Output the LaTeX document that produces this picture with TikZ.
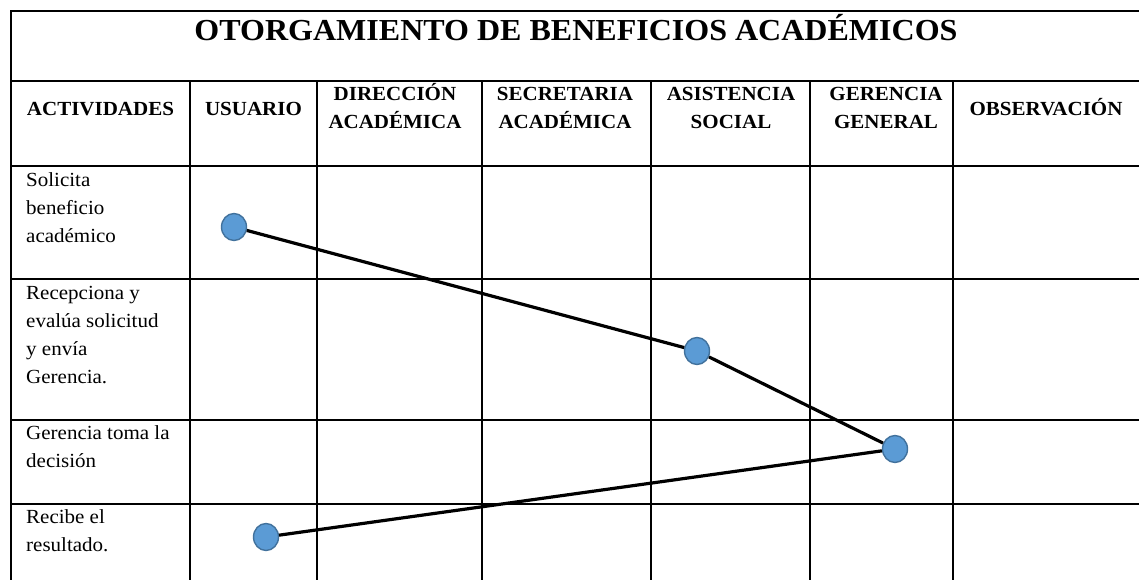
\documentclass[tikz,border=0pt]{standalone}
\usepackage{fontspec}
\setmainfont[FakeStretch=1.05]{Liberation Serif}
\usetikzlibrary{shapes.geometric}
\definecolor{dotfill}{HTML}{5B9BD5}
\definecolor{dotline}{HTML}{41719C}
\newcommand\myst{\rule{0pt}{19pt}}
\begin{document}
\begin{tikzpicture}[x=1pt,y=-1pt,
  grid/.style={line width=2pt},
  titletext/.style={font=\fontsize{30.5}{36}\selectfont\bfseries, inner sep=0pt, anchor=base},
  head/.style={font=\fontsize{20}{28}\selectfont\bfseries, inner sep=0pt, align=center, anchor=north},
  act/.style={font=\fontsize{20}{28}\selectfont, inner sep=0pt, align=left, anchor=north west},
  dot/.style={ellipse, draw=dotline, fill=dotfill, line width=1.4pt, minimum width=25pt, minimum height=27pt, inner sep=0pt},
  flow/.style={line width=3.2pt}]
\useasboundingbox (0,0) rectangle (1139,580);
\begin{scope}
  \clip (0,0) rectangle (1139,580);
  \draw[grid] (11,11) rectangle (1141,600);
  \foreach \yy in {81,166,279,420,504} \draw[grid] (11,\yy) -- (1141,\yy);
  \foreach \xx in {190,317,482,651,810,953} \draw[grid] (\xx,81) -- (\xx,600);
\end{scope}
% title
\node[titletext] (title) at (576,40.5) {OTORGAMIENTO DE BENEFICIOS ACADÉMICOS};
% headers
\node[head] (hact) at (100.5,96) {\myst ACTIVIDADES};
\node[head] (husu) at (253.5,96) {\myst USUARIO};
\node[head] (hdir) at (395,81) {\myst DIRECCIÓN\\ACADÉMICA};
\node[head] (hsec) at (565,81) {\myst SECRETARIA\\ACADÉMICA};
\node[head] (hasi) at (731,81) {\myst ASISTENCIA\\SOCIAL};
\node[head] (hger) at (886,81) {\myst GERENCIA\\GENERAL};
\node[head] (hobs) at (1046,96) {\myst OBSERVACIÓN};
% activities
\node[act] (a1) at (26,167.7) {\myst Solicita\\beneficio\\académico};
\node[act] (a2) at (26,280) {\myst Recepciona y\\evalúa solicitud\\y envía\\Gerencia.};
\node[act] (a3) at (26,420.3) {\myst Gerencia toma la\\decisión};
\node[act] (a4) at (26,504.3) {\myst Recibe el\\resultado.};
% flow
\node[dot] (c1) at (234,227) {};
\node[dot] (c2) at (697,351) {};
\node[dot] (c3) at (895,449) {};
\node[dot] (c4) at (266,537) {};
\draw[flow] (c1) -- (c2);
\draw[flow] (c2) -- (c3);
\draw[flow] (c3) -- (c4);
\end{tikzpicture}
\end{document}
